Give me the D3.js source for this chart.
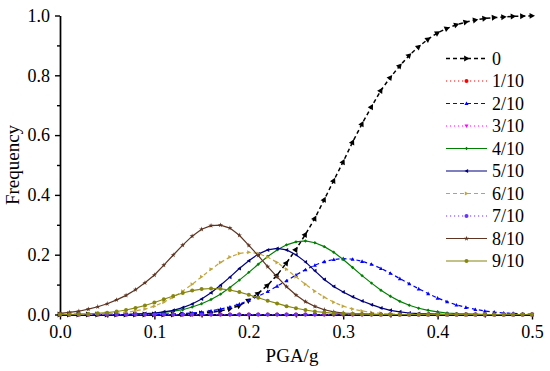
<!DOCTYPE html>
<html>
<head>
<meta charset="utf-8">
<script src="https://cdn.jsdelivr.net/npm/d3@7"></script>
<style>
  body { margin: 0; background: #fff; }
  svg text { font-family: 'Liberation Serif', 'Times New Roman', Times, 'DejaVu Serif', serif !important; }
</style>
</head>
<body>
<svg id="chart" width="550" height="371"></svg>
<script>
// PGA sample points (g)
const pga = [0.00,0.01,0.02,0.03,0.04,0.05,0.06,0.07,0.08,0.09,
             0.10,0.11,0.12,0.13,0.14,0.15,0.16,0.17,0.18,0.19,
             0.20,0.21,0.22,0.23,0.24,0.25,0.26,0.27,0.28,0.29,
             0.30,0.31,0.32,0.33,0.34,0.35,0.36,0.37,0.38,0.39,
             0.40,0.41,0.42,0.43,0.44,0.45,0.46,0.47,0.48,0.49,0.50]

const labels = ["0","1/10","2/10","3/10","4/10","5/10","6/10","7/10","8/10","9/10"]

const s0 = [0,0,0,0,0,0,0,0,0,0,
            0,0,0,0.001,0.002,0.004,0.007,0.012,0.019,0.030,
            0.048,0.071,0.098,0.132,0.173,0.218,0.268,0.322,0.385,0.448,
            0.511,0.577,0.638,0.695,0.750,0.793,0.832,0.867,0.896,0.921,
            0.942,0.957,0.969,0.978,0.985,0.990,0.993,0.995,0.997,0.998,0.999]
const s1 = [0,0,0,0,0,0,0,0,0,0, 0,0,0,0,0,0,0,0,0,0, 0,0,0,0,0,0,0,0,0,0,
            0,0,0,0,0,0,0,0,0,0, 0,0,0,0,0,0,0,0,0,0, 0]
const s2 = [0,0,0,0,0,0,0,0,0,0,
            0,0.001,0.002,0.003,0.005,0.008,0.012,0.018,0.025,0.035,
            0.047,0.061,0.077,0.095,0.113,0.132,0.150,0.165,0.177,0.184,
            0.187,0.185,0.178,0.168,0.154,0.138,0.120,0.103,0.086,0.070,
            0.055,0.043,0.032,0.024,0.017,0.012,0.008,0.005,0.004,0.002,0.001]
const s3 = [0,0,0,0,0,0,0,0,0,0, 0,0,0,0,0,0,0,0,0,0, 0,0,0,0,0,0,0,0,0,0,
            0,0,0,0,0,0,0,0,0,0, 0,0,0,0,0,0,0,0,0,0, 0]
const s4 = [0,0,0,0,0,0,0,0,0.001,0.002,
            0.004,0.007,0.011,0.016,0.025,0.036,0.050,0.068,0.090,0.115,
            0.141,0.168,0.194,0.216,0.233,0.243,0.246,0.240,0.227,0.208,
            0.184,0.157,0.130,0.105,0.081,0.061,0.044,0.031,0.021,0.014,
            0.009,0.005,0.003,0.002,0.001,0,0,0,0,0,0]
const s5 = [0,0,0,0,0,0,0,0,0.001,0.003,
            0.005,0.009,0.014,0.023,0.035,0.052,0.073,0.098,0.125,0.154,
            0.180,0.202,0.216,0.221,0.216,0.200,0.176,0.146,0.117,0.094,
            0.075,0.059,0.045,0.033,0.022,0.014,0.009,0.005,0.003,0.002,
            0.001,0,0,0,0,0,0,0,0,0,0]
const s6 = [0,0,0,0,0.001,0.002,0.004,0.007,0.012,0.018,
            0.028,0.041,0.058,0.078,0.101,0.126,0.151,0.174,0.192,0.204,
            0.208,0.204,0.192,0.174,0.151,0.126,0.101,0.078,0.058,0.041,
            0.028,0.018,0.012,0.007,0.004,0.002,0.001,0,0,0,
            0,0,0,0,0,0,0,0,0,0,0]
const s7 = [0,0,0,0,0,0,0,0,0,0, 0,0,0,0,0,0,0,0,0,0, 0,0,0,0,0,0,0,0,0,0,
            0,0,0,0,0,0,0,0,0,0, 0,0,0,0,0,0,0,0,0,0, 0]
const s8 = [0.004,0.007,0.011,0.018,0.026,0.036,0.049,0.064,0.083,0.106,
            0.132,0.165,0.199,0.232,0.262,0.285,0.297,0.299,0.289,0.265,
            0.231,0.197,0.160,0.126,0.093,0.065,0.043,0.027,0.016,0.009,
            0.005,0.003,0.002,0.001,0,0,0,0,0,0,
            0,0,0,0,0,0,0,0,0,0,0]
const s9 = [0,0,0.001,0.002,0.004,0.006,0.010,0.015,0.022,0.030,
            0.040,0.051,0.062,0.072,0.080,0.085,0.087,0.086,0.082,0.075,
            0.066,0.056,0.046,0.037,0.028,0.021,0.015,0.010,0.007,0.004,
            0.003,0.002,0.001,0,0,0,0,0,0,0,
            0,0,0,0,0,0,0,0,0,0,0]

const xTicks = [0, 0.1, 0.2, 0.3, 0.4, 0.5]
const xMinor = [0.05, 0.15, 0.25, 0.35, 0.45]
const yTicks = [0, 0.2, 0.4, 0.6, 0.8, 1.0]
const yMinor = [0.1, 0.3, 0.5, 0.7, 0.9]

const allSeries = [s0, s1, s2, s3, s4, s5, s6, s7, s8, s9]

// styling per series
const colors = ["#000000","#ff0000","#0000ff","#ff00ff","#008000","#000080","#c0a640","#6633ff","#5e3522","#86860f"]
const dashes = ["4,3","1.2,2.8","4,3","1.2,2.8",null,null,"4,3","1.2,2.8",null,null]
const marks  = ["arrow","circle","up","down","diamond","left","right","circle","star","circle"]
const SERIF = "'Liberation Serif', 'Times New Roman', Times, 'DejaVu Serif', serif"

const svg = d3.select("#chart")
const x = d3.scaleLinear().domain([0, 0.5]).range([60, 532])
const y = d3.scaleLinear().domain([0, 1]).range([314.5, 15.5])

function markPath(type, s) {
  if (type === "up") return `M0,${-s}L${s},${s*0.8}L${-s},${s*0.8}Z`
  if (type === "down") return `M0,${s}L${s},${-s*0.8}L${-s},${-s*0.8}Z`
  if (type === "left") return `M${-s},0L${s*0.8},${-s}L${s*0.8},${s}Z`
  if (type === "right" || type === "arrow") return `M${s},0L${-s*0.8},${-s}L${-s*0.8},${s}Z`
  if (type === "diamond") return `M0,${-s}L${s},0L0,${s}L${-s},0Z`
  if (type === "star") return d3.symbol(d3.symbolStar, s * 4)()
  return d3.symbol(d3.symbolCircle, Math.PI * s * s)()
}
function markSize(type) {
  return type === "arrow" ? 3 : (type === "diamond" ? 1.7 : 2)
}

function styleAxis(g) {
  g.attr("font-family", SERIF)
  g.selectAll("path,line").attr("stroke", "#000").attr("stroke-width", 1.4)
  g.selectAll("text").style("font-family", SERIF)
    .attr("font-size", 18).attr("fill", "#000")
}

// axes
svg.append("g").attr("transform", `translate(0,${y(0)})`)
  .call(d3.axisBottom(x).tickValues(xMinor).tickFormat("").tickSize(3).tickSizeOuter(0))
  .call(styleAxis)
svg.append("g").attr("transform", `translate(0,${y(0)})`)
  .call(d3.axisBottom(x).tickValues(xTicks).tickFormat(d3.format(".1f")).tickSize(5).tickSizeOuter(0).tickPadding(6))
  .call(styleAxis)
svg.append("g").attr("transform", `translate(${x(0)},0)`)
  .call(d3.axisLeft(y).tickValues(yMinor).tickFormat("").tickSize(3).tickSizeOuter(0))
  .call(styleAxis)
svg.append("g").attr("transform", `translate(${x(0)},0)`)
  .call(d3.axisLeft(y).tickValues(yTicks).tickFormat(d3.format(".1f")).tickSize(5).tickSizeOuter(0).tickPadding(5))
  .call(styleAxis)

// series
const line = d3.line().x((d, i) => x(pga[i])).y(d => y(d))

allSeries.forEach((vals, k) => {
  const g = svg.append("g")
  g.append("path")
    .attr("d", line(vals))
    .attr("fill", "none")
    .attr("stroke", colors[k])
    .attr("stroke-width", k === 0 ? 1.5 : 1.2)
    .attr("stroke-dasharray", dashes[k])

  g.selectAll("path.m").data(vals).enter().append("path")
    .attr("class", "m")
    .attr("d", markPath(marks[k], markSize(marks[k])))
    .attr("fill", colors[k])
    .attr("transform", (d, i) => {
      let a = 0
      if (marks[k] === "arrow") {
        const i0 = Math.max(0, i - 1), i1 = Math.min(vals.length - 1, i + 1)
        a = Math.atan2(y(vals[i1]) - y(vals[i0]), x(pga[i1]) - x(pga[i0])) * 180 / Math.PI
      }
      return `translate(${x(pga[i])},${y(d)}) rotate(${a})`
    })
})

// legend
const legend = svg.append("g")
labels.forEach((lab, k) => {
  const ly = 58.5 + k * 22.5
  legend.append("line")
    .attr("x1", 446).attr("x2", 487).attr("y1", ly).attr("y2", ly)
    .attr("stroke", colors[k]).attr("stroke-width", k === 0 ? 1.5 : 1.2)
    .attr("stroke-dasharray", dashes[k])
  legend.append("path")
    .attr("d", markPath(marks[k], markSize(marks[k])))
    .attr("fill", colors[k])
    .attr("transform", `translate(466.5,${ly})`)
  legend.append("text")
    .attr("x", 492).attr("y", ly).attr("dy", "0.35em")
    .attr("font-size", 18).attr("fill", "#000")
    .style("font-family", SERIF)
    .text(lab)
})

// axis titles
svg.append("text")
  .attr("x", 292).attr("y", 361.5)
  .attr("text-anchor", "middle").attr("font-size", 19)
  .style("font-family", SERIF)
  .text("PGA/g")
svg.append("text")
  .attr("transform", "translate(19,165) rotate(-90)")
  .attr("text-anchor", "middle").attr("font-size", 19)
  .style("font-family", SERIF)
  .text("Frequency")
</script>
</body>
</html>
